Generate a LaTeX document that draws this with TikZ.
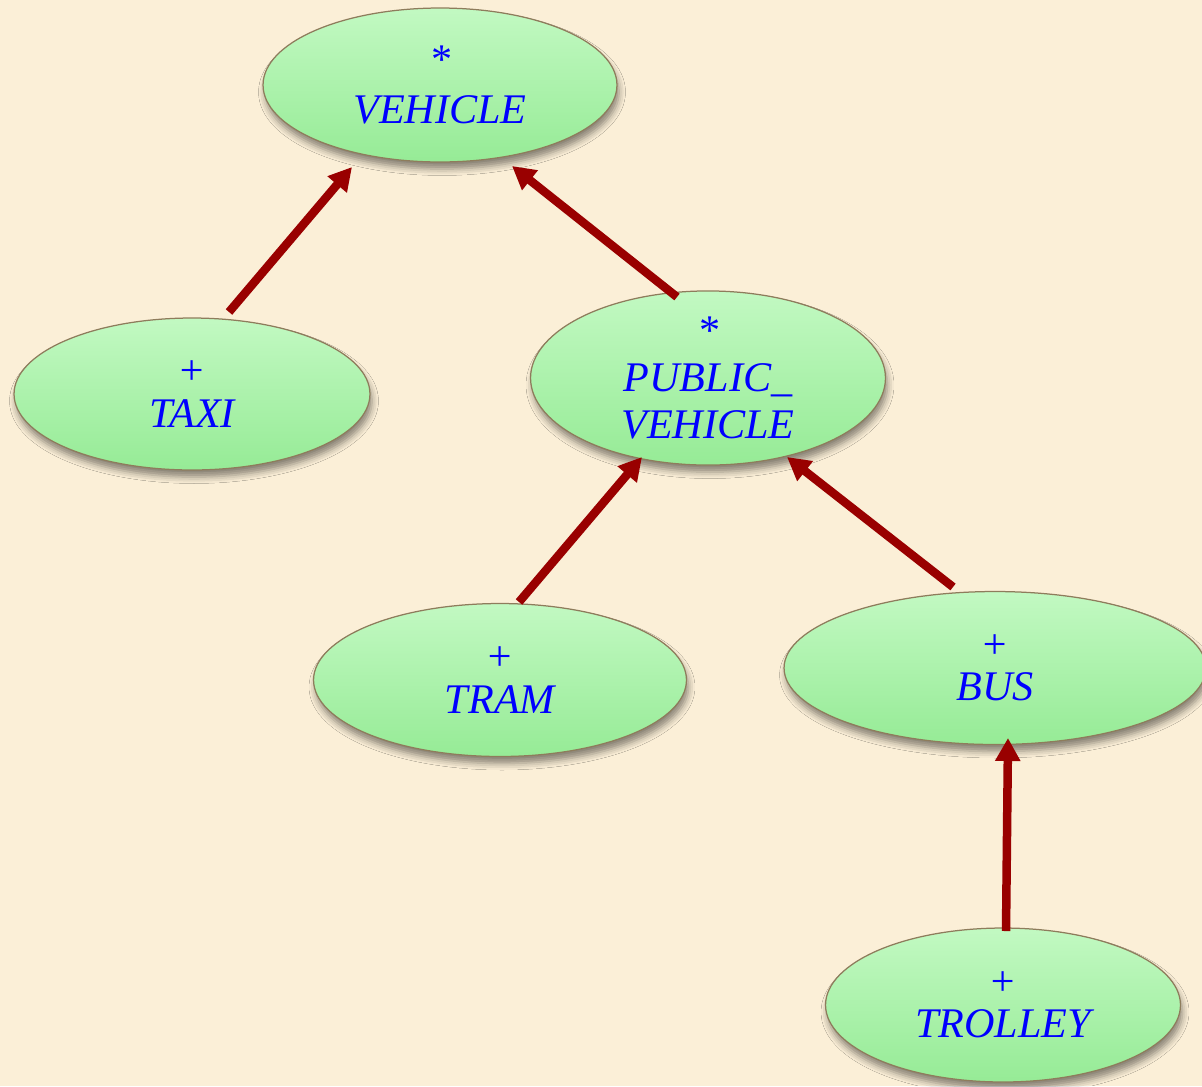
\documentclass[tikz,border=0pt]{standalone}
\usepackage{fontspec}
\setmainfont{Liberation Serif}
\usetikzlibrary{shapes.geometric,arrows.meta,shadows.blur,calc}
\definecolor{paper}{HTML}{FBEFD7}
\definecolor{classtop}{HTML}{C2F9C2}
\definecolor{classmid}{HTML}{A6F3A6}
\definecolor{classbot}{HTML}{96EB96}
\definecolor{classrim}{HTML}{8E7C5C}
\definecolor{inherit}{HTML}{990000}
\definecolor{classtext}{HTML}{0000FF}
\tikzset{
  classnode/.style={ellipse, inner sep=0pt, draw=classrim, line width=0.025cm,
    top color=classtop, middle color=classmid, bottom color=classbot,
    blur shadow={shadow xshift=0.04cm, shadow yshift=-0.14cm,
      shadow blur radius=0.13cm, shadow opacity=45},
    text=classtext, align=center,
    font=\fontsize{24}{27}\selectfont\itshape},
  inheritarrow/.style={draw=inherit, line width=0.17cm,
    -{Triangle[width=0.48cm,length=0.46cm]}}
}
\begin{document}
\begin{tikzpicture}[x=0.02cm, y=-0.02cm]
  \fill[paper] (0,0) rectangle (1202,1086);
  \useasboundingbox (0,0) rectangle (1202,1086);

  % classes of the inheritance hierarchy
  \node[classnode, minimum width=7.08cm, minimum height=3.08cm] (vehicle) at (440,85) {*\\[2pt]VEHICLE};
  \node[classnode, minimum width=7.12cm, minimum height=3.04cm] (taxi) at (192,394) {+\\[-3pt]TAXI};
  \node[classnode, minimum width=7.10cm, minimum height=3.06cm] (public) at (708,378) {*\\PUBLIC\_\\VEHICLE};
  \node[classnode, minimum width=7.46cm, minimum height=3.06cm] (tram) at (500,680) {+\\[-3pt]TRAM};
  \node[classnode, minimum width=8.44cm, minimum height=3.06cm] (bus) at (995,668) {+\\[-3pt]BUS};
  \node[classnode, minimum width=7.10cm, minimum height=3.08cm] (trolley) at (1003,1005) {+\\[-3pt]TROLLEY};

  % inheritance links, child to parent (offsets from the class centres)
  \draw[inheritarrow] ($(taxi.center)+(37,-82)$) -- ($(vehicle.center)+(-88,82)$);
  \draw[inheritarrow] ($(public.center)+(-31,-81)$) -- ($(vehicle.center)+(72,81)$);
  \draw[inheritarrow] ($(tram.center)+(19,-78)$) -- ($(public.center)+(-66,79)$);
  \draw[inheritarrow] ($(bus.center)+(-42,-81)$) -- ($(public.center)+(79,79)$);
  \draw[inheritarrow] ($(trolley.center)+(3,-74)$) -- ($(bus.center)+(13,70)$);
\end{tikzpicture}
\end{document}
